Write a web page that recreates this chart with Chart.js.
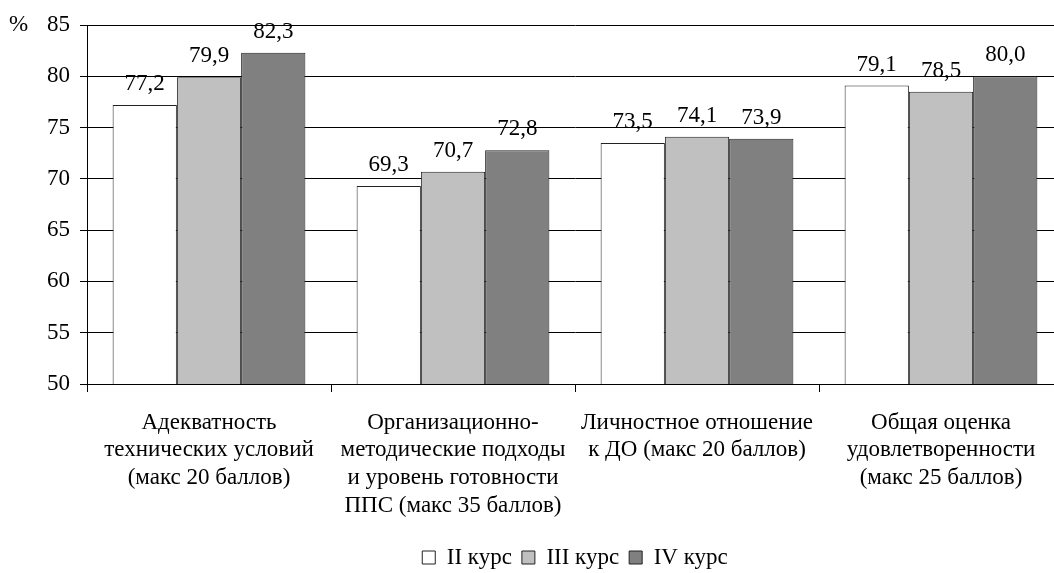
<!DOCTYPE html>
<html><head><meta charset="utf-8">
<script src="https://cdn.jsdelivr.net/npm/chart.js@4/dist/chart.umd.min.js"></script>
<style>
html,body{margin:0;padding:0;background:#fff;overflow:hidden;}
#wrap{width:1063px;height:573px;position:relative;}
</style></head>
<body><div id="wrap"><canvas id="c"></canvas></div>
<script>
const categories = [
  ["Адекватность","технических условий","(макс 20 баллов)"],
  ["Организационно-","методические подходы","и уровень готовности","ППС (макс 35 баллов)"],
  ["Личностное отношение","к ДО (макс 20 баллов)"],
  ["Общая оценка","удовлетворенности","(макс 25 баллов)"]
];
const seriesNames = ["II курс","III курс","IV курс"];
const course2 = [77.2, 69.3, 73.5, 79.1];
const course3 = [79.9, 70.7, 74.1, 78.5];
const course4 = [82.3, 72.8, 73.9, 80.0];
const yTicks = [50,55,60,65,70,75,80,85];
const colors = ["#ffffff","#c0c0c0","#808080"];
const FONT = "'Liberation Serif','Times New Roman',serif";
const FS = 23;

const labelPlugin = {
  id:'labels',
  afterLayout(chart){
    const lg = chart.legend;
    if (lg) { lg.left = 0; lg.right = 1150; lg.top += 6; lg.bottom += 6; }
  },
  afterDatasetsDraw(chart){
    const ctx = chart.ctx;
    ctx.save();
    ctx.font = FS + "px " + FONT;
    ctx.fillStyle = "#000";
    ctx.textAlign = "center";
    ctx.textBaseline = "alphabetic";
    chart.data.datasets.forEach((ds,i)=>{
      chart.getDatasetMeta(i).data.forEach((bar,j)=>{
        ctx.fillText(ds.data[j].toFixed(1).replace('.',','), bar.x, bar.y - 15);
      });
    });
    ctx.textAlign = "left";
    ctx.textBaseline = "middle";
    ctx.fillText("%", 9, chart.scales.y.getPixelForValue(85));
    ctx.restore();
  }
};

new Chart(document.getElementById('c'), {
  type:'bar',
  data:{
    labels: categories,
    datasets:[
      {label:seriesNames[0], data:course2, backgroundColor:colors[0], borderColor:"#222", borderWidth:1},
      {label:seriesNames[1], data:course3, backgroundColor:colors[1], borderColor:"#222", borderWidth:1},
      {label:seriesNames[2], data:course4, backgroundColor:colors[2], borderColor:"#222", borderWidth:1}
    ]
  },
  options:{
    responsive:true, maintainAspectRatio:false, animation:false,
    layout:{padding:{left:0,right:0,top:25,bottom:0}},
    datasets:{bar:{categoryPercentage:0.79, barPercentage:1}},
    plugins:{
      legend:{position:'bottom', labels:{font:{family:FONT,size:FS}, color:"#000", boxWidth:13, boxHeight:13, padding:10}},
      tooltip:{enabled:false}
    },
    scales:{
      x:{
        grid:{drawOnChartArea:false, color:"#000", tickLength:8, offset:true},
        border:{color:"#000"},
        ticks:{font:{family:FONT,size:FS,lineHeight:1.2}, color:"#000", padding:17, maxRotation:0, autoSkip:false},
        afterFit(s){ s.height = 146; }
      },
      y:{
        min:50, max:85,
        afterBuildTicks(s){ s.ticks = yTicks.map(v=>({value:v})); },
        grid:{color:"#000", tickLength:7},
        border:{color:"#000"},
        ticks:{font:{family:FONT,size:FS}, color:"#000", padding:10},
        afterFit(s){ s.width = 87; }
      }
    }
  },
  plugins:[labelPlugin]
});
</script></body></html>
